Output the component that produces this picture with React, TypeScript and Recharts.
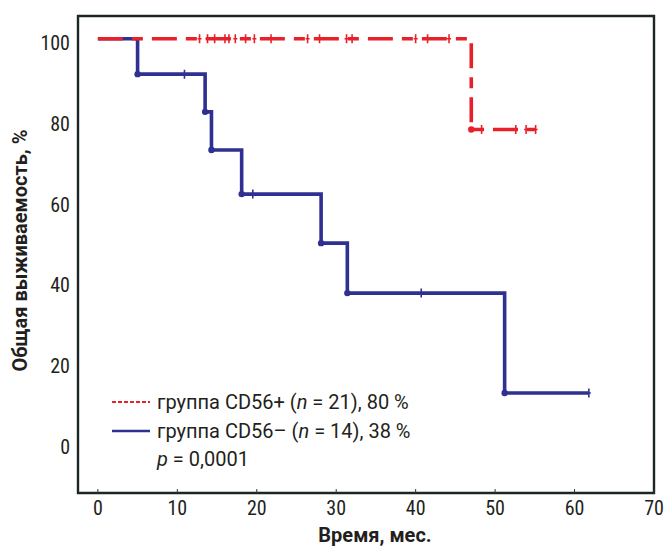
import React from 'react'
import {
  ComposedChart,
  Line,
  Scatter,
  XAxis,
  YAxis,
  ReferenceArea,
  Legend,
} from 'recharts'

// CD56+ group (n = 21): step times and survival, %
const posTimes = [0, 47, 55.1]
const posSurv = [100, 80, 80]
const posCensored = [
  12.8, 13.8, 14.7, 16.0, 16.5, 17.3, 18.6, 19.7, 21.8, 26.4, 27.9, 31.3,
  32.0, 40.0, 41.5, 44.2, 48.3, 52.6, 53.9, 55.1,
]

// CD56- group (n = 14)
const negTimes = [0, 5, 13.5, 14.3, 18.1, 28.1, 31.4, 51.2, 61.8]
const negSurv = [100, 92.2, 83.9, 75.5, 65.8, 55, 44, 22, 22]
const negCensored = [10.9, 19.5, 40.7, 61.8]

const xTicks = [0, 10, 20, 30, 40, 50, 60, 70]
const yLabelTicks = [0, 20, 40, 60, 80, 100]
const yMinorTicks = [0, 10, 20, 30, 40, 50, 60, 70, 80, 90, 100]

const RED = '#e8202a'
const BLUE = '#2e3192'
const FONT = "'Liberation Sans Narrow', 'Roboto Condensed', Roboto, sans-serif"
const TEXT = '#231f20'

const toPoints = (times: number[], surv: number[]) =>
  times.map((t, i) => ({ t, s: surv[i] }))

// survival level of the step curve at a given time
const survAt = (times: number[], surv: number[], t: number) => {
  let s = surv[0]
  times.forEach((tt, i) => {
    if (tt <= t) s = surv[i]
  })
  return s
}

const posLine = toPoints(posTimes, posSurv)
const negLine = toPoints(negTimes, negSurv)
const posEvents = posLine.slice(1, -1)
const negEvents = negLine.slice(1, -1)
const posCens = posCensored.map((t) => ({ t, s: survAt(posTimes, posSurv, t) }))
const negCens = negCensored.map((t) => ({ t, s: survAt(negTimes, negSurv, t) }))

const censorShape = (color: string) => (props: any) => {
  const { cx, cy } = props
  return (
    <path
      d={`M${cx},${cy - 4.5}V${cy + 4.5}M${cx - 2},${cy}H${cx + 2}`}
      stroke={color}
      strokeWidth={1.6}
      fill="none"
    />
  )
}

const dotShape = (color: string) => (props: any) => (
  <circle cx={props.cx} cy={props.cy} r={3.2} fill={color} />
)

const emptyTick = () => <g />

const renderLegend = () => (
  <div
    style={{
      fontFamily: 'Roboto, sans-serif',
      fontSize: 20,
      color: TEXT,
      lineHeight: '28.5px',
      whiteSpace: 'nowrap',
    }}
  >
    <div style={{ display: 'flex', alignItems: 'center' }}>
      <svg width={45} height={10}>
        <line x1={0} y1={5} x2={38} y2={5} stroke={RED} strokeWidth={2} strokeDasharray="4 2" />
      </svg>
      <span>
        группа CD56+ (<i>n</i> = 21), 80 %
      </span>
    </div>
    <div style={{ display: 'flex', alignItems: 'center' }}>
      <svg width={45} height={10}>
        <line x1={0} y1={5} x2={38} y2={5} stroke={BLUE} strokeWidth={2.5} />
      </svg>
      <span>
        группа CD56– (<i>n</i> = 14), 38 %
      </span>
    </div>
    <div style={{ paddingLeft: 45 }}>
      <i>p</i> = 0,0001
    </div>
  </div>
)

export default function App() {
  return (
    <div style={{ position: 'absolute', left: 0, top: 0, background: '#fff' }}>
      <ComposedChart
        width={664}
        height={552}
        margin={{ top: 16, right: 10, bottom: 0, left: 0 }}
      >
        <XAxis
          xAxisId="x"
          dataKey="t"
          type="number"
          domain={[-2.5, 70]}
          allowDataOverflow
          ticks={xTicks}
          height={59}
          axisLine={false}
          tickSize={-4}
          tickMargin={12}
          tickLine={{ stroke: '#333' }}
          tick={{ fill: TEXT, fontSize: 20, fontFamily: FONT }}
          label={{
            value: 'Время, мес.',
            position: 'insideBottom',
            offset: 10,
            dx: 9,
            style: { fontFamily: 'Roboto, sans-serif', fontSize: 20, fontWeight: 700, fill: TEXT },
          }}
        />
        <XAxis
          xAxisId="top"
          type="number"
          orientation="top"
          domain={[-2.5, 70]}
          allowDataOverflow
          ticks={xTicks}
          height={0}
          axisLine={false}
          tickSize={-4}
          tickLine={{ stroke: '#333' }}
          tick={emptyTick}
        />
        <YAxis
          yAxisId="label"
          type="number"
          domain={[-11.4, 106.7]}
          allowDataOverflow
          ticks={yLabelTicks}
          width={78}
          axisLine={false}
          tickLine={false}
          tickSize={0}
          tickMargin={8}
          tick={{ fill: TEXT, fontSize: 20, fontFamily: FONT }}
          label={{
            value: 'Общая выживаемость, %',
            angle: -90,
            position: 'center',
            dx: -19,
            dy: -4,
            style: { fontFamily: 'Roboto, sans-serif', fontSize: 20, fontWeight: 700, fill: TEXT },
          }}
        />
        <YAxis
          yAxisId="data"
          type="number"
          domain={[0, 105]}
          allowDataOverflow
          ticks={yMinorTicks}
          width={0}
          axisLine={false}
          tickSize={-4}
          tickLine={{ stroke: '#333' }}
          tick={emptyTick}
        />
        <YAxis
          yAxisId="right"
          type="number"
          orientation="right"
          domain={[0, 105]}
          allowDataOverflow
          ticks={yMinorTicks}
          width={0}
          axisLine={false}
          tickSize={-4}
          tickLine={{ stroke: '#333' }}
          tick={emptyTick}
        />
        <ReferenceArea
          xAxisId="x"
          yAxisId="data"
          x1={-2.5}
          x2={70}
          y1={0}
          y2={105}
          ifOverflow="visible"
          fill="#fff"
          fillOpacity={0}
          stroke="#1c2626"
          strokeWidth={2.4}
        />
        <Line
          xAxisId="x"
          yAxisId="data"
          data={negLine}
          dataKey="s"
          type="stepAfter"
          stroke={BLUE}
          strokeWidth={3.6}
          dot={false}
          isAnimationActive={false}
        />
        <Scatter
          xAxisId="x"
          yAxisId="data"
          data={negEvents}
          dataKey="s"
          shape={dotShape(BLUE)}
          isAnimationActive={false}
        />
        <Scatter
          xAxisId="x"
          yAxisId="data"
          data={negCens}
          dataKey="s"
          shape={censorShape(BLUE)}
          isAnimationActive={false}
        />
        <Line
          xAxisId="x"
          yAxisId="data"
          data={posLine}
          dataKey="s"
          type="stepAfter"
          stroke={RED}
          strokeWidth={3.6}
          strokeDasharray="25 9 11 9"
          dot={false}
          isAnimationActive={false}
        />
        <Scatter
          xAxisId="x"
          yAxisId="data"
          data={posEvents}
          dataKey="s"
          shape={dotShape(RED)}
          isAnimationActive={false}
        />
        <Scatter
          xAxisId="x"
          yAxisId="data"
          data={posCens}
          dataKey="s"
          shape={censorShape(RED)}
          isAnimationActive={false}
        />
        <Legend
          layout="vertical"
          align="center"
          verticalAlign="middle"
          content={renderLegend}
          wrapperStyle={{ left: 112, top: 388, width: 330 }}
        />
      </ComposedChart>
    </div>
  )
}
